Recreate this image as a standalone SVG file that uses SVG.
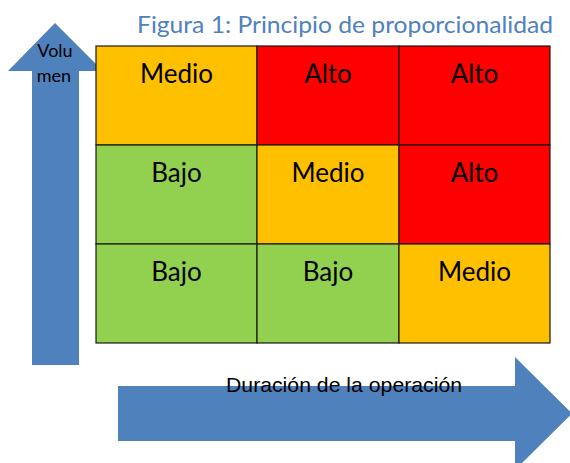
<svg xmlns="http://www.w3.org/2000/svg" width="570" height="463" viewBox="0 0 570 463">
<style>
.cell{stroke:#1a1a1a;stroke-width:1.2}
.hi{fill:#FF0000}.mid{fill:#FFC000}.lo{fill:#92D050}
.lbl{font-family:Lato,"Open Sans",sans-serif;font-size:26px;fill:#000;text-anchor:middle}
.arrow{fill:#4F81BD}
</style>
<rect width="570" height="463" fill="#fff"/>
<text x="137" y="33" font-family="Lato,'Open Sans',sans-serif" font-size="23" fill="#4F81BD" textLength="416" lengthAdjust="spacingAndGlyphs">Figura 1: Principio de proporcionalidad</text>
<g id="connectors">
<g id="axis-y">
<polygon class="arrow" points="32,365 79,365 79,71 103,71 55,23 8,71 32,71"/>
<text font-family="Lato,'Open Sans',sans-serif" font-size="18" fill="#000" text-anchor="middle"><tspan x="55" y="57">Volu</tspan><tspan x="54" y="82">men</tspan></text>
</g>
<g id="axis-x">
<polygon class="arrow" points="118,386 515,386 515,357 572,413.5 515,470 515,441 118,441"/>
<text x="226" y="392" font-family="'Liberation Sans',Arial,sans-serif" font-size="21" fill="#000" textLength="236" lengthAdjust="spacingAndGlyphs">Duración de la operación</text>
</g>
</g>
<g id="cell-r1c1"><rect class="cell mid" x="96" y="46" width="161" height="99"/><text class="lbl" x="176.5" y="83">Medio</text></g>
<g id="cell-r1c2"><rect class="cell hi" x="257" y="46" width="142" height="99"/><text class="lbl" x="328" y="83">Alto</text></g>
<g id="cell-r1c3"><rect class="cell hi" x="399" y="46" width="151" height="99"/><text class="lbl" x="474.5" y="83">Alto</text></g>
<g id="cell-r2c1"><rect class="cell lo" x="96" y="145" width="161" height="99"/><text class="lbl" x="176.5" y="182">Bajo</text></g>
<g id="cell-r2c2"><rect class="cell mid" x="257" y="145" width="142" height="99"/><text class="lbl" x="328" y="182">Medio</text></g>
<g id="cell-r2c3"><rect class="cell hi" x="399" y="145" width="151" height="99"/><text class="lbl" x="474.5" y="182">Alto</text></g>
<g id="cell-r3c1"><rect class="cell lo" x="96" y="244" width="161" height="99"/><text class="lbl" x="176.5" y="281">Bajo</text></g>
<g id="cell-r3c2"><rect class="cell lo" x="257" y="244" width="142" height="99"/><text class="lbl" x="328" y="281">Bajo</text></g>
<g id="cell-r3c3"><rect class="cell mid" x="399" y="244" width="151" height="99"/><text class="lbl" x="474.5" y="281">Medio</text></g>
</svg>
